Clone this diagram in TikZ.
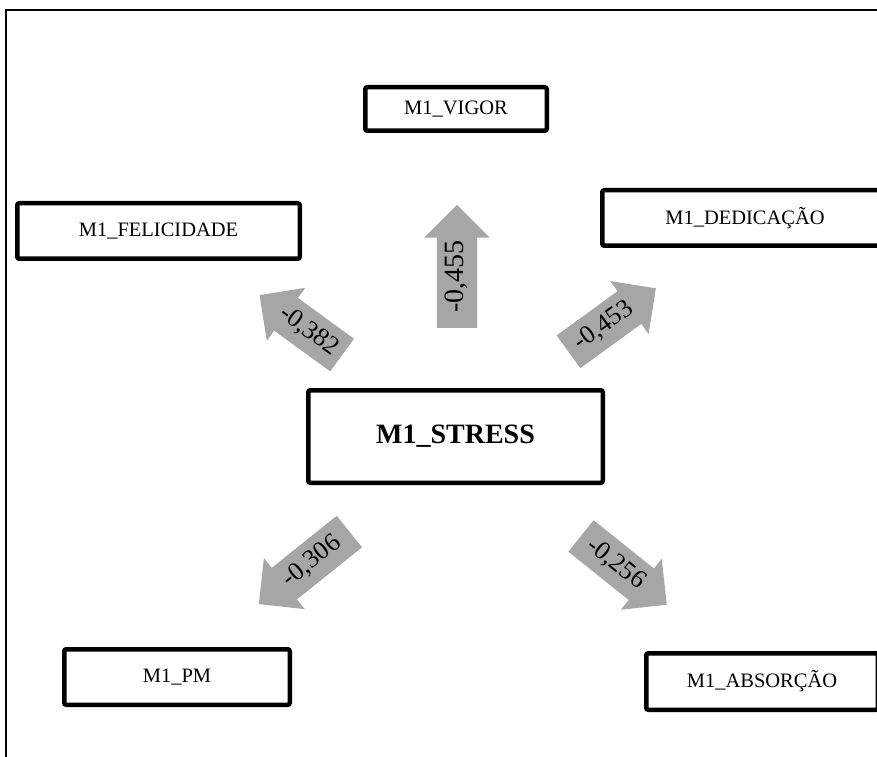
\documentclass[tikz,border=0pt]{standalone}
\usepackage{fontspec}
\setmainfont{Liberation Serif}
\usetikzlibrary{shapes.arrows}
\definecolor{arrowgray}{HTML}{A6A6A6}
\begin{document}
\begin{tikzpicture}[x=1pt,y=1pt,
  box/.style={draw, line width=4.5pt, rounded corners=2pt, inner sep=0pt, fill=white,
    font=\fontsize{20.5}{24}\selectfont},
  blockarrow/.style={single arrow, fill=arrowgray, draw=none,
    single arrow head extend=12.5pt, text height=18pt, text depth=5pt,
    inner ysep=8.5pt, inner xsep=0pt, font=\fontsize{26}{30}\selectfont},
  frame/.style={line width=1.2pt}
]
\useasboundingbox (0,0) rectangle (877,756);
\clip (0,0) rectangle (877,756);
\fill[white] (0,0) rectangle (877,756);
\draw[frame] (6,-20) rectangle (900,746);

% boxes
\node[box, minimum width=181.5pt, minimum height=43.5pt] (vigor) at (456,647) {M1\_VIGOR};
\node[box, minimum width=282.5pt, minimum height=55.5pt] (felic) at (158.5,525) {M1\_FELICIDADE};
\node[box, minimum width=285.5pt, minimum height=55.5pt] (dedic) at (745,538) {M1\_DEDICAÇÃO};
\node[box, minimum width=294.5pt, minimum height=92.5pt, font=\fontsize{28}{32}\selectfont\bfseries] (stress) at (455.5,319.5) {M1\_STRESS};
\node[box, minimum width=225.5pt, minimum height=55.5pt] (pm) at (177,79) {M1\_PM};
\node[box, minimum width=231.5pt, minimum height=56.5pt] (absor) at (762,74.5) {M1\_ABSORÇÃO};

% block arrows
\node[blockarrow, minimum height=123pt, rotate=90, font=\fontsize{28}{32}\selectfont] (avig) at (457,479.5) {-0,455};
\node[blockarrow, minimum height=102pt, rotate=-36, shape border rotate=180] (afel) at (309,425) {-0,382};
\node[blockarrow, minimum height=108pt, rotate=36] (aded) at (604,430) {-0,453};
\node[blockarrow, minimum height=116pt, rotate=38.7, shape border rotate=180] (apm) at (312,194.5) {-0,306};
\node[blockarrow, minimum height=110pt, rotate=-38.7] (aabs) at (616,192) {-0,256};
\end{tikzpicture}
\end{document}
